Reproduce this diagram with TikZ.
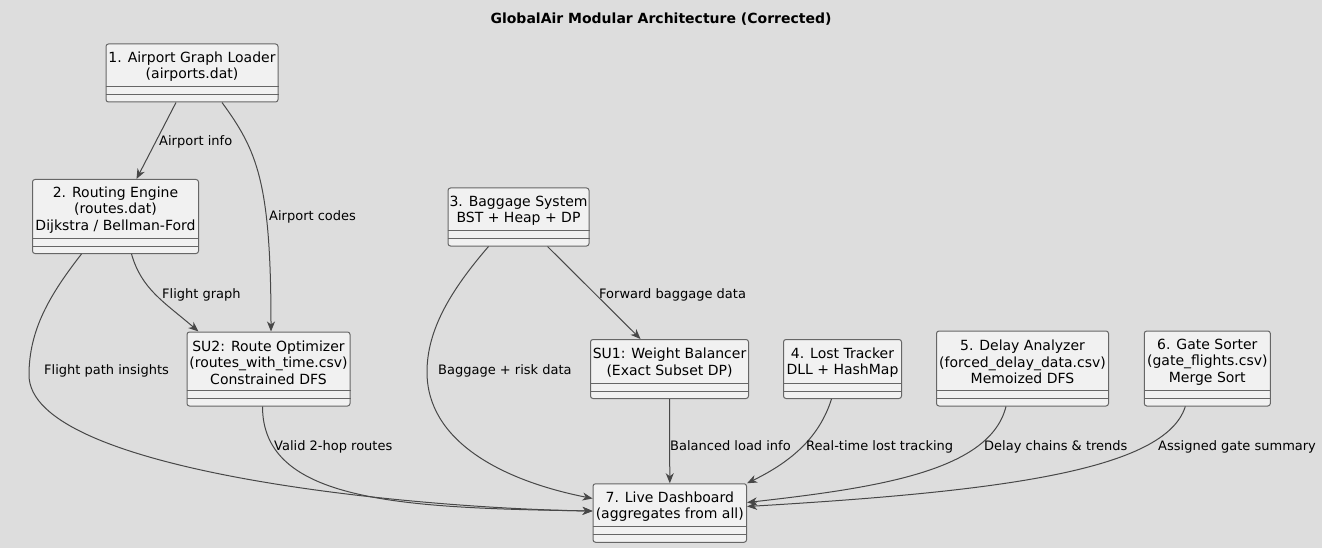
\documentclass[tikz,border=0pt]{standalone}
\usepackage{fontspec}
\setmainfont{DejaVu Sans}
\usetikzlibrary{arrows.meta}
\definecolor{bgcol}{HTML}{DDDDDD}
\definecolor{boxfill}{HTML}{F1F1F1}
\definecolor{boxline}{HTML}{666666}
\definecolor{arrowcol}{HTML}{474747}
\tikzset{
    cls/.style={draw=boxline, fill=boxfill, rounded corners=2.5pt, line width=1pt, inner sep=0pt},
    clstext/.style={align=center, inner sep=0pt, font=\fontsize{14}{16.3}\selectfont},
    sep/.style={draw=boxline, line width=1pt},
    flow/.style={draw=arrowcol, line width=1pt, -{Stealth[length=10pt,width=8pt,inset=3pt]}},
    lbl/.style={anchor=west, inner sep=0pt, yshift=-1.5pt, text height=9.5pt, text depth=2.5pt, font=\fontsize{13}{15}\selectfont},
}

\begin{document}
\begin{tikzpicture}[x=1pt, y=-1pt]
    % canvas
    \fill[bgcol] (0,0) rectangle (1322,548);

    % Title
    \node[font=\fontsize{14}{16}\selectfont\bfseries] (title) at (661,19) {GlobalAir Modular Architecture (Corrected)};

    % Classes
    \node[cls, minimum width=172pt, minimum height=58pt] (loader)   at (192,73)      {};
    \node[cls, minimum width=166pt, minimum height=74pt] (routing)  at (115.5,216.5) {};
    \node[cls, minimum width=163pt, minimum height=74pt] (optim)    at (268.5,369)   {};
    \node[cls, minimum width=141pt, minimum height=58pt] (baggage)  at (518.5,217)   {};
    \node[cls, minimum width=158pt, minimum height=59pt] (balancer) at (669.5,369)   {};
    \node[cls, minimum width=118pt, minimum height=59pt] (lost)     at (842.5,369)   {};
    \node[cls, minimum width=172pt, minimum height=75pt] (delay)    at (1022.5,368.5) {};
    \node[cls, minimum width=126pt, minimum height=75pt] (gate)     at (1207.3,368.5) {};
    \node[cls, minimum width=153.5pt, minimum height=58.5pt] (dash) at (669.8,513)   {};

    % Class names
    \node[clstext] (loadertxt)   at ([yshift=6.5pt]loader.center)   {1. Airport Graph Loader\\(airports.dat)};
    \node[clstext] (routingtxt)  at ([yshift=6.5pt]routing.center)  {2. Routing Engine\\(routes.dat)\\Dijkstra / Bellman-Ford};
    \node[clstext] (optimtxt)    at ([yshift=6.5pt]optim.center)    {SU2: Route Optimizer\\(routes\_with\_time.csv)\\Constrained DFS};
    \node[clstext] (baggagetxt)  at ([yshift=6.5pt]baggage.center)  {3. Baggage System\\BST + Heap + DP};
    \node[clstext] (balancertxt) at ([yshift=6.5pt]balancer.center) {SU1: Weight Balancer\\(Exact Subset DP)};
    \node[clstext] (losttxt)     at ([yshift=6.5pt]lost.center)     {4. Lost Tracker\\DLL + HashMap};
    \node[clstext] (delaytxt)    at ([yshift=6.5pt]delay.center)    {5. Delay Analyzer\\(forced\_delay\_data.csv)\\Memoized DFS};
    \node[clstext] (gatetxt)     at ([yshift=6.5pt]gate.center)     {6. Gate Sorter\\(gate\_flights.csv)\\Merge Sort};
    \node[clstext] (dashtxt)     at ([yshift=6.5pt]dash.center)     {7. Live Dashboard\\(aggregates from all)};

    % empty compartments
    \foreach \n in {loader,routing,optim,baggage,balancer,lost,delay,gate,dash} {
        \draw[sep] ([yshift=16pt]\n.south west) -- ([yshift=16pt]\n.south east);
        \draw[sep] ([yshift=8pt]\n.south west) -- ([yshift=8pt]\n.south east);
    }

    % Connectors
    \draw[flow] ([xshift=-16pt]loader.south) -- ([xshift=21pt]routing.north);
    \draw[flow] ([xshift=30pt]loader.south) .. controls +(35,48) and +(0,-150) .. ([xshift=2.5pt]optim.north);
    \draw[flow] ([xshift=16pt]routing.south) .. controls +(10,35) and +(-35,-30) .. ([xshift=12pt]optim.north west);
    \draw[flow] ([xshift=-34pt]routing.south) .. controls +(-32,41) and +(0,-45) .. (29,375)
        .. controls +(0,95) and +(-192,-3) .. ([yshift=2pt]dash.west);
    \draw[flow] ([xshift=-6pt]optim.south) .. controls +(0,95) and +(-193,-3) .. ([yshift=2pt]dash.west);
    \draw[flow] ([xshift=29pt]baggage.south) -- ([xshift=-29pt]balancer.north);
    \draw[flow] ([xshift=-30pt]baggage.south) .. controls +(-38,44) and +(0,-42) .. (427,372)
        .. controls +(0,68) and +(-93,-18.5) .. ([yshift=14.5pt]dash.west);
    \draw[flow] (balancer.south) -- (dash.north);
    \draw[flow] ([xshift=-11pt]lost.south) .. controls +(-12,38) and +(45,-22) .. (dash.north east);
    \draw[flow] ([xshift=-16.5pt]delay.south) .. controls +(-16,64) and +(133,-15) .. ([yshift=10.5pt]dash.east);
    \draw[flow] ([xshift=-22pt]gate.south) .. controls +(-20,64) and +(253,-15) .. ([yshift=6.5pt]dash.east);

    % Connector labels
    \node[lbl] (lbinfo)     at (159,141)  {Airport info};
    \node[lbl] (lbcodes)    at (269,216)  {Airport codes};
    \node[lbl] (lbgraph)    at (162,293)  {Flight graph};
    \node[lbl] (lbpath)     at (44,369)   {Flight path insights};
    \node[lbl] (lbhop)      at (274,445)  {Valid 2-hop routes};
    \node[lbl] (lbforward)  at (599,293)  {Forward baggage data};
    \node[lbl] (lbrisk)     at (438,369)  {Baggage + risk data};
    \node[lbl] (lbload)     at (670,445)  {Balanced load info};
    \node[lbl] (lblost)     at (806,445)  {Real-time lost tracking};
    \node[lbl] (lbdelay)    at (984,445)  {Delay chains \& trends};
    \node[lbl] (lbgate)     at (1158,445) {Assigned gate summary};
\end{tikzpicture}
\end{document}
